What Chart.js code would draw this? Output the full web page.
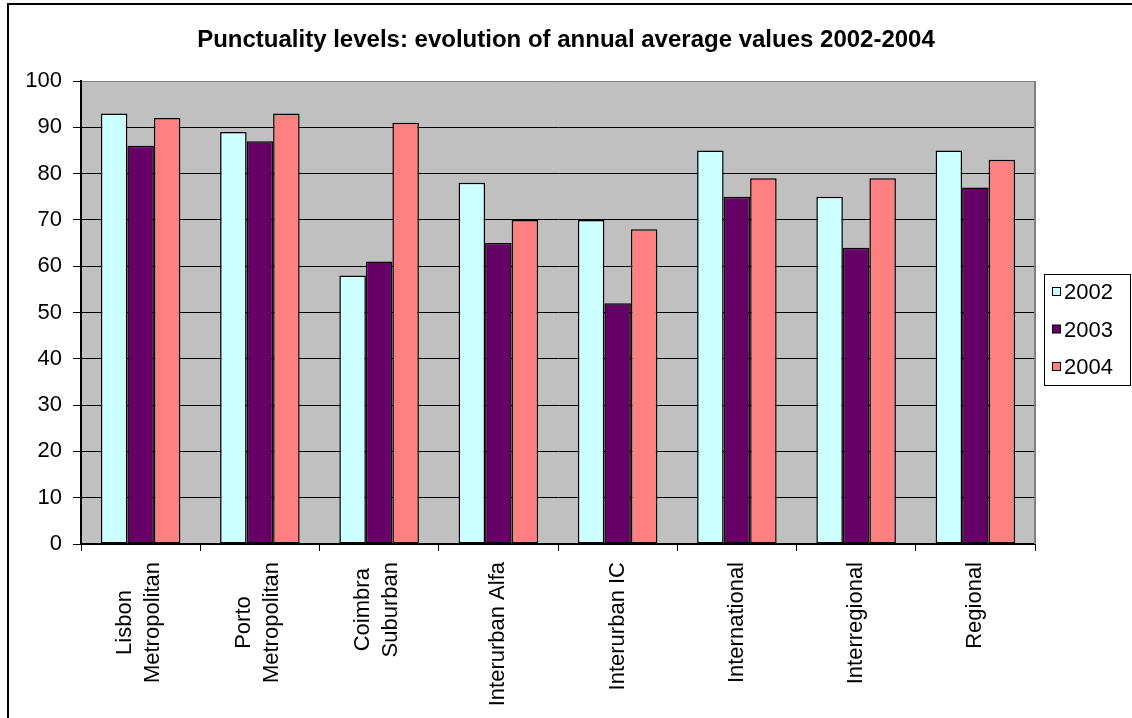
<!DOCTYPE html>
<html>
<head>
<meta charset="utf-8">
<title>Punctuality levels</title>
<script src="https://cdn.jsdelivr.net/npm/chart.js@4"></script>
<style>
    html, body { margin: 0; padding: 0; background: #fff; }
    #wrap { width: 1132px; height: 718px; position: relative; }
</style>
</head>
<body>
<div id="wrap"><canvas id="punctChart" width="1132" height="718"></canvas></div>
<script>
// Chart data
const categories = [
    ['Lisbon', 'Metropolitan'],
    ['Porto', 'Metropolitan'],
    ['Coimbra', 'Suburban'],
    ['Interurban Alfa'],
    ['Interurban IC'],
    ['International'],
    ['Interregional'],
    ['Regional']
];
const seriesNames = ['2002', '2003', '2004'];
const values2002 = [93, 89, 58, 78, 70, 85, 75, 85];
const values2003 = [86, 87, 61, 65, 52, 75, 64, 77];
const values2004 = [92, 93, 91, 70, 68, 79, 79, 83];
const yTicks = [0, 10, 20, 30, 40, 50, 60, 70, 80, 90, 100];

const FONT = "'Liberation Sans', Arial, sans-serif";
const seriesColors = ['#CCFFFF', '#660066', '#FF8080'];

Chart.defaults.font.family = FONT;
Chart.defaults.color = '#000';

// Grey plot background + right frame line
const plotFrame = {
    id: 'plotFrame',
    beforeDraw(chart) {
        const a = chart.chartArea;
        const c = chart.ctx;
        c.save();
        c.fillStyle = '#C0C0C0';
        c.fillRect(a.left, a.top, a.right - a.left, a.bottom - a.top);
        c.restore();
    },
    afterDatasetsDraw(chart) {
        const a = chart.chartArea;
        const c = chart.ctx;
        c.save();
        c.strokeStyle = '#808080';
        c.lineWidth = 2;
        c.beginPath();
        c.moveTo(a.right, a.top);
        c.lineTo(a.right, a.bottom);
        c.stroke();
        c.restore();
    }
};

// Multi-line rotated category labels, lines centred on each other
const catLabels = {
    id: 'catLabels',
    afterDraw(chart) {
        const xs = chart.scales.x;
        const c = chart.ctx;
        c.save();
        c.font = '22px ' + FONT;
        c.fillStyle = '#000';
        c.textAlign = 'center';
        c.textBaseline = 'middle';
        categories.forEach((lines, i) => {
            const x = xs.getPixelForTick(i);
            const w = Math.max(...lines.map(l => c.measureText(l).width));
            const cy = xs.top + 18 + w / 2;
            lines.forEach((line, j) => {
                const cx = x + (j - (lines.length - 1) / 2) * 28 - (lines.length > 1 ? 2 : 0);
                c.save();
                c.translate(cx, cy);
                c.rotate(-Math.PI / 2);
                c.fillText(line, 0, 0);
                c.restore();
            });
        });
        c.restore();
    }
};

// Boxed legend placed as a layout box on the right
const sideLegend = {
    id: 'sideLegend',
    beforeInit(chart) {
        const box = {
            position: 'right',
            weight: 1000,
            fullSize: false,
            options: {},
            left: 0, top: 0, right: 0, bottom: 0, width: 0, height: 0,
            isHorizontal() { return false; },
            update(maxWidth, maxHeight) {
                this.width = 97;
                this.height = maxHeight;
            },
            draw() {
                const c = chart.ctx;
                const x0 = this.left + 9.5;
                c.save();
                c.lineWidth = 1;
                c.strokeStyle = '#000';
                c.fillStyle = '#fff';
                c.fillRect(x0, 274.5, 86, 111);
                c.strokeRect(x0, 274.5, 86, 111);
                c.font = '22px ' + FONT;
                c.textBaseline = 'middle';
                c.textAlign = 'left';
                chart.data.datasets.forEach((ds, i) => {
                    const y = 292 + i * 37.5;
                    c.fillStyle = ds.backgroundColor;
                    c.fillRect(x0 + 8, y - 4.5, 8, 8);
                    c.strokeRect(x0 + 8, y - 4.5, 8, 8);
                    c.fillStyle = '#000';
                    c.fillText(ds.label, x0 + 19.5, y + 1);
                });
                c.restore();
            }
        };
        Chart.layouts.addBox(chart, box);
    },
    afterDraw(chart) {
        // outer chart border (right and bottom edges fall outside the picture)
        const c = chart.ctx;
        c.save();
        c.strokeStyle = '#000';
        c.lineWidth = 2;
        c.strokeRect(8, 4, 1200, 800);
        c.restore();
    }
};

new Chart(document.getElementById('punctChart'), {
    type: 'bar',
    data: {
        labels: categories,
        datasets: [values2002, values2003, values2004].map((vals, i) => ({
            label: seriesNames[i],
            data: vals,
            backgroundColor: seriesColors[i],
            borderColor: '#000',
            borderWidth: 1.5,
            borderSkipped: false,
            categoryPercentage: 0.667,
            barPercentage: 1.0
        }))
    },
    options: {
        responsive: false,
        animation: false,
        layout: { padding: 0 },
        plugins: {
            legend: { display: false },
            tooltip: { enabled: false },
            title: {
                display: true,
                text: 'Punctuality levels: evolution of annual average values 2002-2004',
                color: '#000',
                font: { size: 24, weight: 'bold', family: FONT },
                padding: { top: 26, bottom: 26.2 }
            }
        },
        scales: {
            x: {
                grid: {
                    offset: true,
                    drawOnChartArea: false,
                    drawTicks: true,
                    tickLength: 7,
                    color: '#000'
                },
                border: { color: '#000', width: 2 },
                ticks: { display: false },
                afterFit(scale) { scale.height = 174; }
            },
            y: {
                min: 0,
                max: 100,
                afterBuildTicks(scale) { scale.ticks = yTicks.map(v => ({ value: v })); },
                grid: {
                    color: ctx => (ctx.tick && ctx.tick.value === 100 ? '#808080' : '#000'),
                    tickColor: '#000',
                    tickLength: 8,
                    lineWidth: 1
                },
                border: { color: '#000', width: 2 },
                ticks: {
                    color: '#000',
                    padding: 11,
                    font: { size: 22, family: FONT }
                },
                afterFit(scale) { scale.width = 81; }
            }
        }
    },
    plugins: [plotFrame, catLabels, sideLegend]
});
</script>
</body>
</html>
